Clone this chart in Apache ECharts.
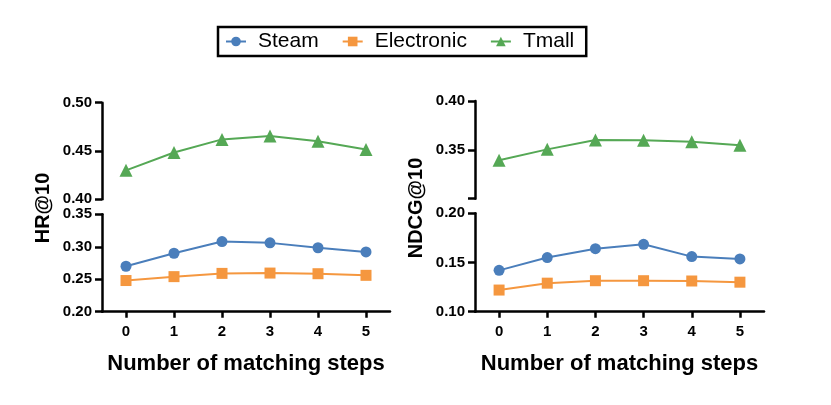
<!DOCTYPE html>
<html>
<head>
<meta charset="utf-8">
<script src="https://cdn.jsdelivr.net/npm/echarts@6/dist/echarts.min.js"></script>
<style>html,body{margin:0;padding:0;background:#fff}#c{width:831px;height:405px}</style>
</head>
<body>
<div id="c"></div>
<script>
var categories = ['0', '1', '2', '3', '4', '5'];
var seriesNames = ['Steam', 'Electronic', 'Tmall'];
// HR@10 panel
var hrSteam = [0.270, 0.290, 0.308, 0.306, 0.2985, 0.292];
var hrElectronic = [0.248, 0.254, 0.259, 0.2595, 0.2585, 0.256];
var hrTmall = [0.430, 0.4485, 0.462, 0.4656, 0.460, 0.4515];
// NDCG@10 panel
var ndcgSteam = [0.142, 0.155, 0.164, 0.1685, 0.156, 0.1536];
var ndcgElectronic = [0.122, 0.129, 0.1315, 0.1315, 0.1312, 0.130];
var ndcgTmall = [0.3393, 0.3505, 0.360, 0.3598, 0.3583, 0.3546];
// axis ranges
var hrTopRange = [0.40, 0.50];
var hrBottomRange = [0.20, 0.35];
var ndcgTopRange = [0.30, 0.40];
var ndcgBottomRange = [0.10, 0.20];
var yTitles = ['HR@10', 'NDCG@10'];
var xTitle = 'Number of matching steps';

var FONT = 'Liberation Sans, Arial, Helvetica, sans-serif';
var colors = {Steam: '#4a7ebb', Electronic: '#f5973f', Tmall: '#55a855'};
var symbols = {Steam: 'circle', Electronic: 'rect', Tmall: 'triangle'};
var symbolSizes = {Steam: 11, Electronic: 11, Tmall: 13};

var chart = echarts.init(document.getElementById('c'), null, {renderer: 'canvas'});

function xAx(gi, show) {
  return {
    type: 'category', gridIndex: gi, data: categories, boundaryGap: true,
    show: show,
    axisLine: {show: show, lineStyle: {color: '#000', width: 2.5}},
    axisTick: {show: show, alignWithLabel: true, length: 6, lineStyle: {color: '#000', width: 2.5}},
    axisLabel: {show: show, color: '#000', fontFamily: FONT, fontWeight: 'bold', fontSize: 15, margin: 13},
    splitLine: {show: false},
    name: show ? xTitle : '', nameLocation: 'middle', nameGap: 41,
    nameTextStyle: {color: '#000', fontFamily: FONT, fontWeight: 'bold', fontSize: 22}
  };
}
function yAx(gi, range, hideMinLabel) {
  return {
    type: 'value', gridIndex: gi, min: range[0], max: range[1], interval: 0.05,
    axisLine: {show: true, lineStyle: {color: '#000', width: 2.5}},
    axisTick: {show: true, length: 7, lineStyle: {color: '#000', width: 2.5}},
    axisLabel: {color: '#000', fontFamily: FONT, fontWeight: 'bold', fontSize: 15, margin: 10,
      formatter: function (v) {
        if (hideMinLabel && Math.abs(v - range[0]) < 1e-9) return '';
        return v.toFixed(2);
      }},
    splitLine: {show: false}
  };
}
function ser(name, data, gi) {
  return {
    name: name, type: 'line', xAxisIndex: gi, yAxisIndex: gi, data: data,
    symbol: symbols[name], symbolSize: symbolSizes[name],
    itemStyle: {color: colors[name]},
    lineStyle: {color: colors[name], width: 2},
    animation: false
  };
}

var option = {
  backgroundColor: '#fff',
  animation: false,
  legend: {
    data: seriesNames, top: 27, left: 218,
    borderColor: '#000', borderWidth: 2.5, padding: [4, 12, 4, 7],
    itemWidth: 20, itemHeight: 12, itemGap: 23,
    textStyle: {color: '#000', fontFamily: FONT, fontSize: 21, padding: [0, 0, 0, 7]}
  },
  grid: [
    {left: 102, top: 102.7, width: 288, height: 96.6},
    {left: 102, top: 214.3, width: 288, height: 97.4},
    {left: 475, top: 101, width: 289, height: 97.7},
    {left: 475, top: 213.3, width: 289, height: 98.4}
  ],
  xAxis: [xAx(0, false), xAx(1, true), xAx(2, false), xAx(3, true)],
  yAxis: [yAx(0, hrTopRange, false), yAx(1, hrBottomRange, false),
          yAx(2, ndcgTopRange, true), yAx(3, ndcgBottomRange, false)],
  series: [
    ser('Tmall', hrTmall, 0), ser('Steam', hrSteam, 1), ser('Electronic', hrElectronic, 1),
    ser('Tmall', ndcgTmall, 2), ser('Steam', ndcgSteam, 3), ser('Electronic', ndcgElectronic, 3)
  ],
  graphic: [
    {type: 'text', x: 43, y: 208, rotation: Math.PI / 2,
     style: {text: yTitles[0], fill: '#000', font: 'bold 20px ' + FONT, align: 'center', verticalAlign: 'middle'}},
    {type: 'text', x: 416, y: 208, rotation: Math.PI / 2,
     style: {text: yTitles[1], fill: '#000', font: 'bold 20px ' + FONT, align: 'center', verticalAlign: 'middle'}}
  ]
};
chart.setOption(option);
</script>
</body>
</html>
